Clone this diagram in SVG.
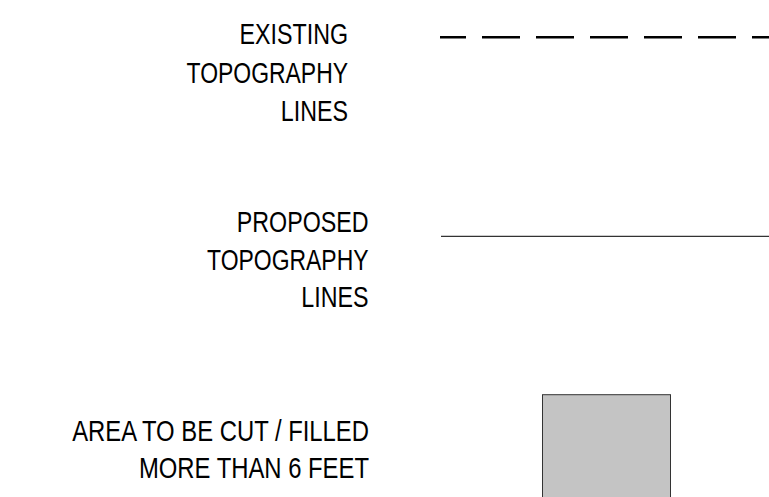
<svg xmlns="http://www.w3.org/2000/svg" width="769" height="497" viewBox="0 0 769 497">
<style>
.lbl{font-family:"Liberation Sans",Arial,sans-serif;font-size:30px;fill:#000;text-anchor:end}
</style>
<rect width="769" height="497" fill="#fff"/>
<g id="existing">
<text class="lbl" transform="translate(348 44) scale(0.775 1)">EXISTING</text>
<text class="lbl" transform="translate(348 83) scale(0.765 1)">TOPOGRAPHY</text>
<text class="lbl" transform="translate(348 121) scale(0.775 1)">LINES</text>
<line x1="440" y1="37.3" x2="769" y2="37.3" stroke="#000" stroke-width="2.5" stroke-dasharray="38 16" stroke-dashoffset="12"/>
</g>
<g id="proposed">
<text class="lbl" transform="translate(368.5 231.5) scale(0.775 1)">PROPOSED</text>
<text class="lbl" transform="translate(368.5 269.5) scale(0.765 1)">TOPOGRAPHY</text>
<text class="lbl" transform="translate(368.5 306.5) scale(0.775 1)">LINES</text>
<line x1="441" y1="236.3" x2="769" y2="236.3" stroke="#333" stroke-width="1.3"/>
</g>
<g id="cutfill">
<text class="lbl" transform="translate(369 441) scale(0.795 1)">AREA TO BE CUT / FILLED</text>
<text class="lbl" transform="translate(369 478) scale(0.795 1)">MORE THAN 6 FEET</text>
<rect x="542.5" y="394.7" width="128" height="110" fill="#c4c4c4" stroke="#333" stroke-width="1"/>
</g>
</svg>
